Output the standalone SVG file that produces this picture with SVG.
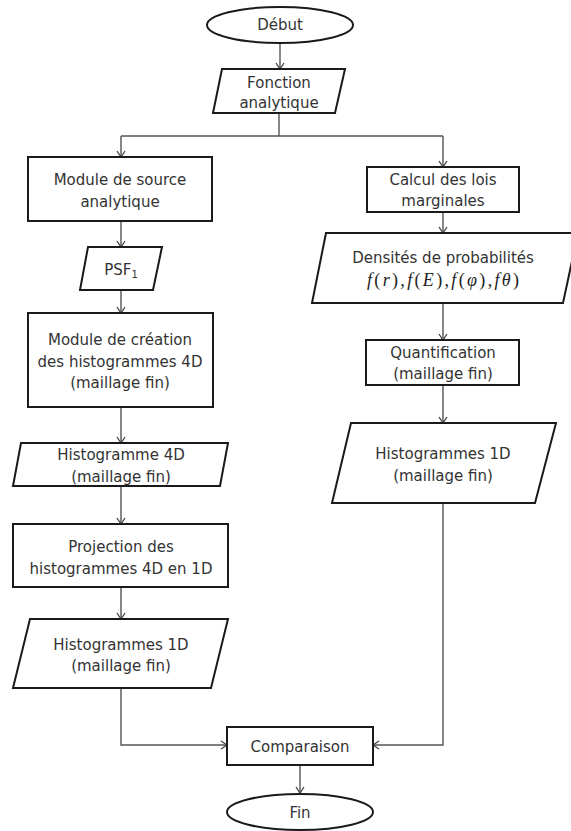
<svg xmlns="http://www.w3.org/2000/svg" width="571" height="831" viewBox="0 0 571 831">
<style>
.s{fill:#fff;stroke:#1a1a1a;stroke-width:2}
.t{font-family:"DejaVu Sans",sans-serif;font-size:15px;fill:#333;text-anchor:middle}
.m{font-family:"Liberation Serif",serif;font-size:18px;fill:#222;text-anchor:middle}
.c{fill:none;stroke:#555;stroke-width:1.4}
</style>
<defs>
<marker id="a" markerWidth="10" markerHeight="10" refX="8" refY="5" orient="auto" markerUnits="userSpaceOnUse">
<path d="M2,1 L8,5 L2,9" fill="none" stroke="#444" stroke-width="1.3"/>
</marker>
</defs>
<rect width="571" height="831" fill="#fff"/>
<g id="connectors">
<path class="c" d="M280,43 V69" marker-end="url(#a)"/>
<path class="c" d="M279,113 V136"/>
<path class="c" d="M121,136 H443"/>
<path class="c" d="M121,136 V157" marker-end="url(#a)"/>
<path class="c" d="M443,136 V167" marker-end="url(#a)"/>
<path class="c" d="M121,221 V247" marker-end="url(#a)"/>
<path class="c" d="M121,290 V313" marker-end="url(#a)"/>
<path class="c" d="M121,407 V443" marker-end="url(#a)"/>
<path class="c" d="M121,486 V524" marker-end="url(#a)"/>
<path class="c" d="M121,587 V619" marker-end="url(#a)"/>
<path class="c" d="M121,688 V745 H227" marker-end="url(#a)"/>
<path class="c" d="M443,212 V233" marker-end="url(#a)"/>
<path class="c" d="M443,303 V340" marker-end="url(#a)"/>
<path class="c" d="M443,385 V423" marker-end="url(#a)"/>
<path class="c" d="M443,503 V745 H373" marker-end="url(#a)"/>
<path class="c" d="M300,765 V793" marker-end="url(#a)"/>
</g>
<g id="debut">
<ellipse class="s" cx="280" cy="25" rx="73" ry="18"/>
<text class="t" x="280" y="30">Début</text>
</g>
<g id="fonction">
<polygon class="s" points="222,69 345,69 335,113 213,113"/>
<text class="t" x="279" y="88">Fonction</text>
<text class="t" x="279" y="108">analytique</text>
</g>
<g id="module-source">
<rect class="s" x="28" y="157" width="184" height="64"/>
<text class="t" x="120" y="185">Module de source</text>
<text class="t" x="120" y="207">analytique</text>
</g>
<g id="psf1">
<polygon class="s" points="88,247 162,247 153,290 80,290"/>
<text class="t" x="121" y="275">PSF<tspan font-size="10" dy="3">1</tspan></text>
</g>
<g id="module-creation">
<rect class="s" x="28" y="313" width="185" height="94"/>
<text class="t" x="120" y="345">Module de création</text>
<text class="t" x="120" y="367">des histogrammes 4D</text>
<text class="t" x="120" y="388">(maillage fin)</text>
</g>
<g id="histogramme-4d">
<polygon class="s" points="21,443 228,443 220,486 13,486"/>
<text class="t" x="121" y="460">Histogramme 4D</text>
<text class="t" x="121" y="482">(maillage fin)</text>
</g>
<g id="projection">
<rect class="s" x="13" y="524" width="215" height="63"/>
<text class="t" x="121" y="552">Projection des</text>
<text class="t" x="121" y="574">histogrammes 4D en 1D</text>
</g>
<g id="histogrammes-1d-left">
<polygon class="s" points="30,619 228,619 211,688 13,688"/>
<text class="t" x="121" y="650">Histogrammes 1D</text>
<text class="t" x="121" y="671">(maillage fin)</text>
</g>
<g id="calcul">
<rect class="s" x="367" y="167" width="152" height="45"/>
<text class="t" x="443" y="185">Calcul des lois</text>
<text class="t" x="443" y="206">marginales</text>
</g>
<g id="densites">
<polygon class="s" points="326,233 578,233 563,303 312,303"/>
<text class="t" x="443" y="263">Densités de probabilités</text>
<text class="m" x="443" y="286" textLength="152" lengthAdjust="spacing"><tspan font-style="italic">f</tspan>(<tspan font-style="italic">r</tspan>),<tspan font-style="italic">f</tspan>(<tspan font-style="italic">E</tspan>),<tspan font-style="italic">f</tspan>(<tspan font-style="italic">φ</tspan>),<tspan font-style="italic">fθ</tspan>)</text>
</g>
<g id="quantification">
<rect class="s" x="366" y="340" width="153" height="45"/>
<text class="t" x="443" y="358">Quantification</text>
<text class="t" x="443" y="379">(maillage fin)</text>
</g>
<g id="histogrammes-1d-right">
<polygon class="s" points="351,423 556,423 535,503 332,503"/>
<text class="t" x="443" y="459">Histogrammes 1D</text>
<text class="t" x="443" y="481">(maillage fin)</text>
</g>
<g id="comparaison">
<rect class="s" x="227" y="727" width="146" height="38"/>
<text class="t" x="300" y="752">Comparaison</text>
</g>
<g id="fin">
<ellipse class="s" cx="300" cy="812" rx="73" ry="18"/>
<text class="t" x="300" y="818">Fin</text>
</g>
</svg>
